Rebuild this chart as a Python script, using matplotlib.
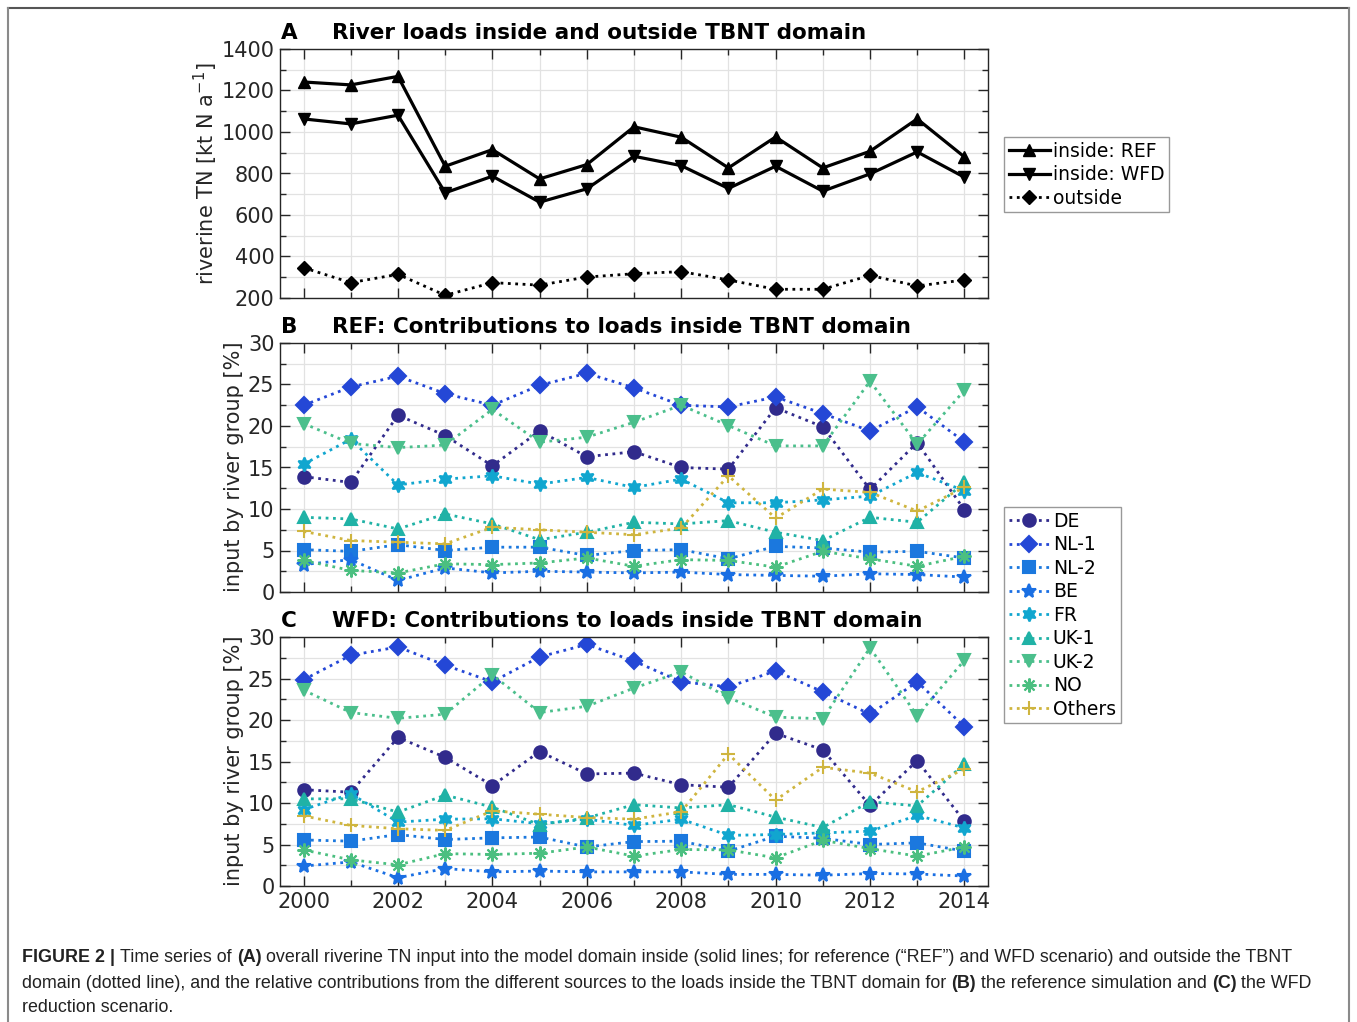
import matplotlib
matplotlib.use('Agg')
import matplotlib.pyplot as plt
from matplotlib.lines import Line2D
from matplotlib.ticker import MultipleLocator

W, H = 1357, 1022

years = list(range(2000, 2015))

# panel A: riverine TN loads [kt N / a]
ref_inside = [1241, 1227, 1268, 835, 915, 774, 843, 1025, 975, 827, 976, 827, 907, 1063, 880]
wfd_inside = [1063, 1039, 1081, 707, 787, 662, 726, 883, 838, 728, 835, 715, 798, 904, 782]
outside = [346, 274, 314, 213, 274, 262, 301, 317, 327, 287, 242, 242, 309, 258, 287]

groups = ['DE', 'NL-1', 'NL-2', 'BE', 'FR', 'UK-1', 'UK-2', 'NO', 'Others']

# panel B: REF contributions [%]
ref_de = [13.9, 13.2, 21.3, 18.85, 15.2, 19.4, 16.3, 16.9, 15.0, 14.8, 22.2, 19.9, 12.35, 18.0, 9.9]
ref_nl1 = [22.5, 24.7, 26.0, 23.9, 22.5, 24.9, 26.35, 24.6, 22.5, 22.3, 23.5, 21.5, 19.4, 22.3, 18.1]
ref_nl2 = [5.1, 4.9, 5.7, 5.0, 5.4, 5.4, 4.4, 5.0, 5.1, 4.0, 5.5, 5.3, 4.8, 4.9, 4.1]
ref_be = [3.3, 3.9, 1.4, 2.9, 2.3, 2.5, 2.4, 2.3, 2.4, 2.1, 2.0, 1.9, 2.2, 2.1, 1.8]
ref_fr = [15.4, 18.4, 12.9, 13.6, 14.0, 13.0, 13.8, 12.6, 13.6, 10.75, 10.75, 11.1, 11.55, 14.4, 12.2]
ref_uk1 = [9.0, 8.8, 7.6, 9.4, 8.2, 6.3, 7.2, 8.4, 8.2, 8.6, 7.2, 6.2, 9.0, 8.4, 13.2]
ref_uk2 = [20.3, 17.9, 17.4, 17.7, 22.0, 18.05, 18.65, 20.45, 22.5, 20.05, 17.6, 17.6, 25.4, 17.8, 24.3]
ref_no = [3.8, 2.6, 2.3, 3.4, 3.3, 3.5, 4.1, 3.1, 3.9, 3.8, 3.0, 4.9, 4.0, 3.1, 4.3]
ref_others = [7.3, 6.2, 6.0, 5.8, 7.8, 7.5, 7.2, 6.9, 7.7, 14.0, 8.9, 12.4, 12.0, 9.75, 12.6]

# panel C: WFD contributions [%]
wfd_de = [11.6, 11.3, 17.9, 15.5, 12.1, 16.2, 13.5, 13.6, 12.2, 11.9, 18.4, 16.4, 9.7, 15.1, 7.8]
wfd_nl1 = [24.85, 27.8, 28.8, 26.6, 24.6, 27.6, 29.1, 27.1, 24.6, 24.0, 25.9, 23.4, 20.7, 24.6, 19.2]
wfd_nl2 = [5.55, 5.4, 6.2, 5.6, 5.8, 5.9, 4.7, 5.35, 5.4, 4.2, 6.0, 5.75, 5.0, 5.2, 4.2]
wfd_be = [2.4, 2.9, 1.0, 2.1, 1.7, 1.8, 1.7, 1.7, 1.7, 1.4, 1.4, 1.3, 1.5, 1.45, 1.2]
wfd_fr = [9.2, 11.1, 7.7, 8.05, 8.1, 7.5, 8.05, 7.3, 8.05, 6.1, 6.2, 6.4, 6.6, 8.5, 7.0]
wfd_uk1 = [10.5, 10.5, 8.9, 10.95, 9.5, 7.4, 8.2, 9.8, 9.4, 9.8, 8.3, 7.05, 10.15, 9.65, 14.7]
wfd_uk2 = [23.6, 20.9, 20.2, 20.7, 25.45, 20.9, 21.65, 23.85, 25.8, 22.7, 20.35, 20.15, 28.7, 20.5, 27.2]
wfd_no = [4.35, 3.15, 2.55, 3.9, 3.8, 3.95, 4.7, 3.6, 4.4, 4.35, 3.4, 5.5, 4.5, 3.6, 4.7]
wfd_others = [8.45, 7.3, 6.9, 6.7, 9.05, 8.65, 8.25, 8.05, 8.95, 15.9, 10.35, 14.3, 13.6, 11.35, 14.1]

ref_share = [ref_de, ref_nl1, ref_nl2, ref_be, ref_fr, ref_uk1, ref_uk2, ref_no, ref_others]
wfd_share = [wfd_de, wfd_nl1, wfd_nl2, wfd_be, wfd_fr, wfd_uk1, wfd_uk2, wfd_no, wfd_others]

colors = ['#312b8c', '#2447d6', '#1b78de', '#1a6fe3', '#11a6cf',
          '#20b2a6', '#4bbf8c', '#4bbf80', '#cfb53f']
markers = ['o', 'D', 's', '*', (6, 1, 0), '^', 'v', (8, 2, 0), '+']
msizes = [9, 8, 8, 10, 10, 9, 9, 10, 10]

CAP_FONT = ['Liberation Sans', 'DejaVu Sans']

plt.rcParams['font.family'] = ['DejaVu Sans']


def px(x, y):
    return x / W, 1 - y / H


def style_axes(ax, major_y, minor_y):
    ax.set_xlim(1999.5, 2014.5)
    ax.xaxis.set_major_locator(MultipleLocator(2))
    ax.xaxis.set_minor_locator(MultipleLocator(1))
    ax.yaxis.set_major_locator(MultipleLocator(major_y))
    ax.yaxis.set_minor_locator(MultipleLocator(minor_y))
    ax.grid(True, which='both', color='#e2e2e2', lw=0.9)
    ax.set_axisbelow(True)
    ax.tick_params(which='both', direction='in', top=True, right=True,
                   color='#262626', width=1.0)
    ax.tick_params(which='major', length=7, labelsize=15, pad=4, labelcolor='#262626')
    ax.tick_params(which='minor', length=4)
    for s in ax.spines.values():
        s.set_color('#262626')
        s.set_linewidth(1.0)


fig = plt.figure(figsize=(W / 100, H / 100), dpi=100)

ax_pos = [(49, 298), (343, 592), (637, 886)]
axes = []
for top, bot in ax_pos:
    l, t = px(280, top)
    r, b = px(988, bot)
    axes.append(fig.add_axes([l, b, r - l, t - b]))
axA, axB, axC = axes

# panel A
axA.plot(years, ref_inside, color='black', lw=2.3, marker='^', ms=9, label='inside: REF')
axA.plot(years, wfd_inside, color='black', lw=2.3, marker='v', ms=9, label='inside: WFD')
axA.plot(years, outside, color='black', lw=2.0, ls=':', marker='D', ms=7, label='outside')
axA.set_ylim(200, 1400)
style_axes(axA, 200, 100)
axA.tick_params(labelbottom=False)

# panels B and C
for ax, share in [(axB, ref_share), (axC, wfd_share)]:
    for g, vals, c, m, ms in zip(groups, share, colors, markers, msizes):
        ax.plot(years, vals, color=c, lw=2.0, ls=':', marker=m, ms=ms,
                markerfacecolor=c, markeredgecolor=c, mew=1.5, label=g)
    ax.set_ylim(0, 30)
    style_axes(ax, 5, 2.5)
axB.tick_params(labelbottom=False)

# panel titles
titles = [('A', 'River loads inside and outside TBNT domain', 33),
          ('B', 'REF: Contributions to loads inside TBNT domain', 327),
          ('C', 'WFD: Contributions to loads inside TBNT domain', 621)]
for letter, txt, y in titles:
    fig.text(*px(281, y), letter, fontsize=15.5, fontweight='bold', va='center')
    fig.text(*px(332, y), txt, fontsize=15.5, fontweight='bold', va='center')

# y labels
fig.text(*px(206, 174), 'riverine TN [kt N a$^{-1}$]', rotation=90, fontsize=15,
         ha='center', va='center', color='#262626')
for y in (467, 761):
    fig.text(*px(234, y), 'input by river group [%]', rotation=90, fontsize=15,
             ha='center', va='center', color='#262626')

# legends
leg_kw = dict(loc='upper left', fontsize=13.5, fancybox=False, edgecolor='#999999',
              framealpha=1, borderpad=0.25, labelspacing=0.24, handlelength=2.2,
              handletextpad=0.15, borderaxespad=0)
legA = fig.legend(*axA.get_legend_handles_labels(), bbox_to_anchor=px(1004, 137), **leg_kw)
legB = fig.legend(*axB.get_legend_handles_labels(), bbox_to_anchor=px(1004, 507), **leg_kw)
for leg in (legA, legB):
    leg.get_frame().set_linewidth(1.0)

# page frame
fig.add_artist(Line2D([8 / W, 1349 / W], [1 - 8.5 / H] * 2, transform=fig.transFigure,
                      color='#555555', lw=1.5))
for x in (8, 1349):
    fig.add_artist(Line2D([x / W] * 2, [0, 1 - 8 / H], transform=fig.transFigure,
                          color='#8a8a8a', lw=1.5))

# caption with bold runs
cap_fs = 12.9
cap_col = '#222222'
renderer = fig.canvas.get_renderer()


def text_width(s, weight):
    t = fig.text(0, 0, s, fontsize=cap_fs, fontweight=weight, family=CAP_FONT)
    w = t.get_window_extent(renderer).width
    t.remove()
    return w


space_w = text_width('x x', 'normal') - text_width('xx', 'normal')

caption = [
    (957, [('FIGURE 2 |', 'bold'), ('Time series of', 'normal'), ('(A)', 'bold'),
           ('overall riverine TN input into the model domain inside (solid lines; for reference '
            '(\u201cREF\u201d) and WFD scenario) and outside the TBNT', 'normal')]),
    (983, [('domain (dotted line), and the relative contributions from the different sources '
            'to the loads inside the TBNT domain for', 'normal'), ('(B)', 'bold'),
           ('the reference simulation and', 'normal'), ('(C)', 'bold'), ('the WFD', 'normal')]),
    (1008, [('reduction scenario.', 'normal')]),
]
for y, runs in caption:
    x = 22
    for s, wt in runs:
        t = fig.text(*px(x, y), s, fontsize=cap_fs, fontweight=wt, family=CAP_FONT,
                     va='center', ha='left', color=cap_col)
        x += t.get_window_extent(renderer).width + space_w

fig.savefig('out.png', dpi=100)
